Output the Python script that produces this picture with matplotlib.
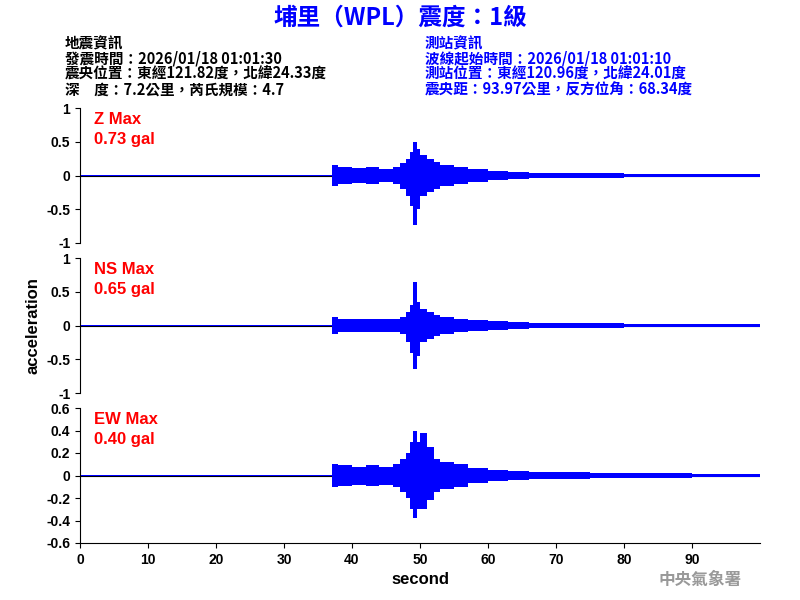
import matplotlib
matplotlib.use("Agg")
import matplotlib.pyplot as plt
import numpy as np

plt.rcParams['font.family'] = ['Noto Sans CJK TC', 'DejaVu Sans']

times = [0, 37, 38, 40, 42, 44, 46, 47, 48, 48.5, 49, 49.5, 50, 51, 52, 53, 55, 57, 60, 63, 66, 70, 75, 80, 90, 100]
z_up = [0.01, 0.15, 0.13, 0.11, 0.12, 0.1, 0.13, 0.18, 0.25, 0.35, 0.5, 0.4, 0.3, 0.25, 0.2, 0.15, 0.12, 0.09, 0.06, 0.05, 0.04, 0.03, 0.03, 0.02, 0.02, 0.02]
z_lo = [-0.01, -0.15, -0.13, -0.11, -0.12, -0.1, -0.13, -0.2, -0.3, -0.45, -0.73, -0.5, -0.3, -0.25, -0.2, -0.15, -0.12, -0.09, -0.06, -0.05, -0.04, -0.03, -0.03, -0.02, -0.02, -0.02]
ns_up = [0.01, 0.12, 0.1, 0.09, 0.1, 0.09, 0.1, 0.13, 0.2, 0.3, 0.65, 0.35, 0.25, 0.2, 0.15, 0.12, 0.1, 0.08, 0.06, 0.05, 0.04, 0.03, 0.03, 0.02, 0.02, 0.02]
ns_lo = [-0.01, -0.12, -0.1, -0.09, -0.1, -0.09, -0.1, -0.13, -0.25, -0.4, -0.65, -0.45, -0.25, -0.2, -0.15, -0.12, -0.1, -0.08, -0.06, -0.05, -0.04, -0.03, -0.03, -0.02, -0.02, -0.02]
ew_up = [0.005, 0.1, 0.09, 0.08, 0.09, 0.08, 0.1, 0.15, 0.2, 0.3, 0.4, 0.3, 0.38, 0.25, 0.15, 0.12, 0.1, 0.07, 0.05, 0.04, 0.03, 0.03, 0.02, 0.02, 0.015, 0.015]
ew_lo = [-0.005, -0.1, -0.09, -0.08, -0.09, -0.08, -0.1, -0.15, -0.2, -0.3, -0.38, -0.3, -0.3, -0.22, -0.15, -0.12, -0.1, -0.07, -0.05, -0.04, -0.03, -0.03, -0.02, -0.02, -0.015, -0.015]

labels = ["Z Max\n0.73 gal", "NS Max\n0.65 gal", "EW Max\n0.40 gal"]
ylims = [(-1, 1), (-1, 1), (-0.6, 0.6)]
yticks = [[-1, -0.5, 0, 0.5, 1], [-1, -0.5, 0, 0.5, 1], [-0.6, -0.4, -0.2, 0, 0.2, 0.4, 0.6]]
data = [(z_up, z_lo), (ns_up, ns_lo), (ew_up, ew_lo)]
AR = 'Liberation Sans'

fig = plt.figure(figsize=(8, 6), dpi=100)
W, H = 800, 600
tops = [108, 258, 408]
for i in range(3):
    ax = fig.add_axes([80 / W, 1 - (tops[i] + 135) / H, 680 / W, 135 / H])
    up, lo = data[i]
    ax.fill_between(times, lo, up, step='post', color='blue', lw=0)
    ax.axhline(0, color='black', lw=0.8, zorder=0)
    ax.set_xlim(0, 100)
    ax.set_ylim(*ylims[i])
    ax.set_yticks(yticks[i])
    ax.set_yticklabels([f"{v:g}" for v in yticks[i]], fontsize=10, family=AR, fontweight='bold')
    for s in ['top', 'right']:
        ax.spines[s].set_visible(False)
    if i < 2:
        ax.spines['bottom'].set_visible(False)
        ax.set_xticks([])
    else:
        ax.set_xticks(range(0, 100, 10))
        ax.set_xticklabels([str(v) for v in range(0, 100, 10)], fontsize=10, family=AR, fontweight='bold')
        ax.set_xlabel("second", fontsize=12, family=AR, fontweight='bold')
    ax.text(0.02, 0.97, labels[i], transform=ax.transAxes, color='red', fontsize=12,
            va='top', ha='left', family=AR, fontweight='bold', linespacing=1.4)
    if i == 1:
        ax.set_ylabel("acceleration", fontsize=12, family=AR, fontweight='bold')

fig.text(0.5, 1 - 18 / H, "埔里（WPL）震度：1級", color='blue', fontsize=17, fontweight='bold', ha='center', va='center')
left = ["地震資訊", "發震時間：2026/01/18 01:01:30", "震央位置：東經121.82度，北緯24.33度", "深　度：7.2公里，芮氏規模：4.7"]
right = ["測站資訊", "波線起始時間：2026/01/18 01:01:10", "測站位置：東經120.96度，北緯24.01度", "震央距：93.97公里，反方位角：68.34度"]
for k in range(4):
    y = 1 - (43 + k * 15.5) / H
    fig.text(65 / W, y, left[k], fontsize=10.5, fontweight='bold', color='black', va='center')
    fig.text(425 / W, y, right[k], fontsize=10.5, fontweight='bold', color='blue', va='center')
fig.text(700 / W, 1 - 580 / H, "中央氣象署", fontsize=12, fontweight='bold', color='#999999', ha='center', va='center')
fig.savefig("out.png", dpi=100)
